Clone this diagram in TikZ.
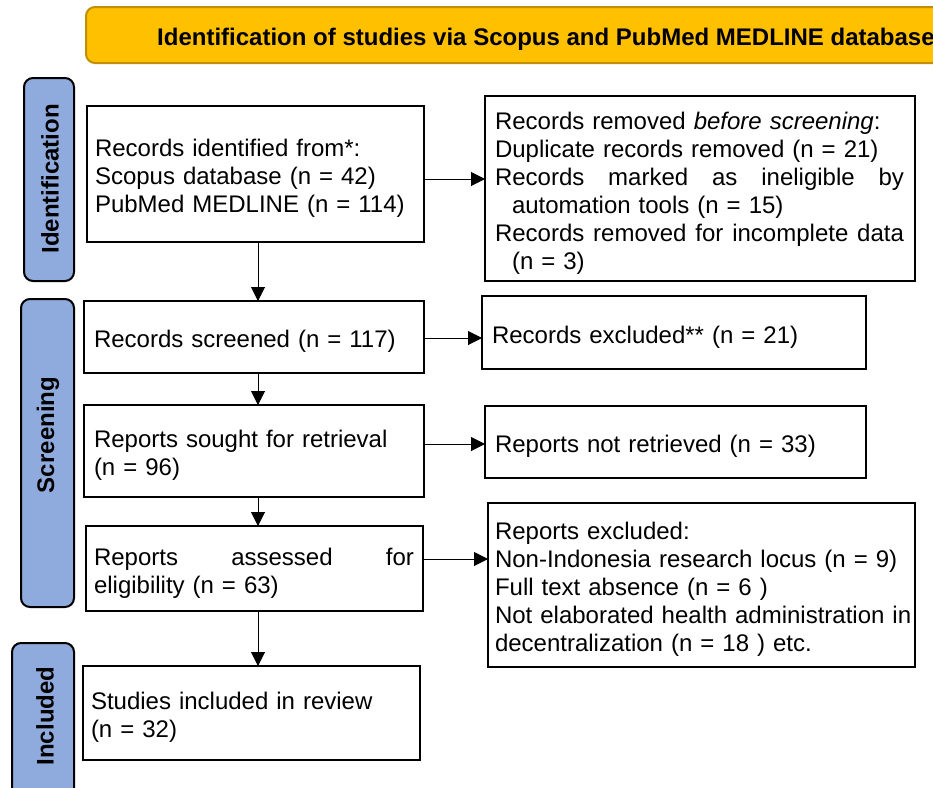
\documentclass[tikz,border=0pt]{standalone}
\usepackage{fontspec}
\setmainfont{Liberation Sans}
\usetikzlibrary{arrows.meta}
\definecolor{hdrfill}{HTML}{FFC000}
\definecolor{hdrdraw}{HTML}{BF9000}
\definecolor{lblfill}{HTML}{8FAADC}
\tikzset{
 box/.style={draw=black, line width=2pt, fill=white, anchor=north west, outer sep=0pt,
   inner xsep=8pt, inner ysep=0pt, align=left, font=\fontsize{24}{28}\selectfont,
   execute at begin node={\rule{0pt}{26pt}}},
 arr/.style={line width=1pt, -{Triangle[length=14pt,width=14pt]}},
 lbl/.style={draw=black, line width=2pt, fill=lblfill, rounded corners=9pt, anchor=north west, outer sep=0pt},
 lbltext/.style={rotate=90, inner sep=0pt, font=\fontsize{24}{28}\selectfont\bfseries},
}
\newcommand{\spreadline}[2]{\leavevmode\hbox to #1{#2}}
\begin{document}
\begin{tikzpicture}[x=1pt,y=-1pt]
\useasboundingbox (0,0) rectangle (933,787);
\clip (0,0) rectangle (933,787);
\fill[white] (0,0) rectangle (933,787);
% header
\node[draw=hdrdraw, line width=2pt, fill=hdrfill, rounded corners=9pt, anchor=north west, outer sep=0pt,
  minimum width=870pt, minimum height=56pt] (hdr) at (86,7) {};
\node[anchor=base west, font=\fontsize{24}{28}\selectfont\bfseries, inner sep=0pt] (hdrtext) at (157,45)
  {Identification of studies via Scopus and PubMed MEDLINE database};
% side labels
\node[lbl, minimum width=50pt, minimum height=203pt] (lid) at (24,78) {};
\node[lbltext] (lidt) at (50,179) {Identification};
\node[lbl, minimum width=53pt, minimum height=308pt] (lsc) at (21,299) {};
\node[lbltext] (lsct) at (48,435) {Screening};
\node[lbl, minimum width=62pt, minimum height=160pt] (lin) at (12,643) {};
\node[lbltext] (lint) at (45,716) {Included};
% left column
\node[box, minimum width=337pt, minimum height=136pt, text width=321pt] (b1) at (87,106)
 {Records identified from*:\\Scopus database (n = 42)\\PubMed MEDLINE (n = 114)};
\node[box, minimum width=340pt, minimum height=72pt, text width=320pt, inner xsep=10pt] (b2) at (84,301)
 {Records screened (n = 117)};
\node[box, minimum width=340pt, minimum height=92pt, text width=320pt, inner xsep=10pt] (b3) at (84,405)
 {Reports sought for retrieval\\(n = 96)};
\node[box, minimum width=337pt, minimum height=85pt, text width=321pt] (b4) at (86,526)
 {\spreadline{320pt}{Reports\hfill assessed\hfill for}\\eligibility (n = 63)};
\node[box, minimum width=337pt, minimum height=94pt, text width=321pt, inner xsep=8pt] (b5) at (83,666)
 {Studies included in review\\(n = 32)};
% right column
\node[box, minimum width=430pt, minimum height=185pt, text width=410pt, inner xsep=10pt] (r1) at (485,96)
 {Records removed \textit{before screening}:\\
  Duplicate records removed (n = 21)\\
  \spreadline{409pt}{Records\hfill marked\hfill as\hfill ineligible\hfill by}\\
  \hspace*{17pt}automation tools (n = 15)\\
  \spreadline{409pt}{Records\hfill removed\hfill for\hfill incomplete\hfill data}\\
  \hspace*{17pt}(n = 3)};
\node[box, minimum width=384pt, minimum height=73pt, text width=364pt, inner xsep=10pt] (r2) at (482,296)
 {Records excluded** (n = 21)};
\node[box, minimum width=381pt, minimum height=72pt, text width=361pt, inner xsep=10pt] (r3) at (485,406)
 {Reports not retrieved (n = 33)};
\node[box, minimum width=427pt, minimum height=164pt, text width=413pt, inner xsep=7pt] (r4) at (488,503)
 {Reports excluded:\\
  Non-Indonesia research locus (n = 9)\\
  Full text absence (n = 6 )\\
  \mbox{Not elaborated health administration in}\\
  decentralization (n = 18 ) etc.};
% horizontal arrows
\draw[arr] ([yshift=-5pt]b1.east) -- ([yshift=-5pt]b1.east -| r1.west);
\draw[arr] ([yshift=-1pt]b2.east) -- ([yshift=-1pt]b2.east -| r2.west);
\draw[arr] ([yshift=7pt]b3.east) -- ([yshift=7pt]b3.east -| r3.west);
\draw[arr] ([yshift=9.5pt]b4.east) -- ([yshift=9.5pt]b4.east -| r4.west);
% vertical arrows
\draw[arr] ([xshift=2.5pt]b1.south) -- ([xshift=2.5pt]b1.south |- b2.north);
\draw[arr] ([xshift=4pt]b2.south) -- ([xshift=4pt]b2.south |- b3.north);
\draw[arr] ([xshift=4pt]b3.south) -- ([xshift=4pt]b3.south |- b4.north);
\draw[arr] ([xshift=3.5pt]b4.south) -- ([xshift=3.5pt]b4.south |- b5.north);
\end{tikzpicture}
\end{document}
